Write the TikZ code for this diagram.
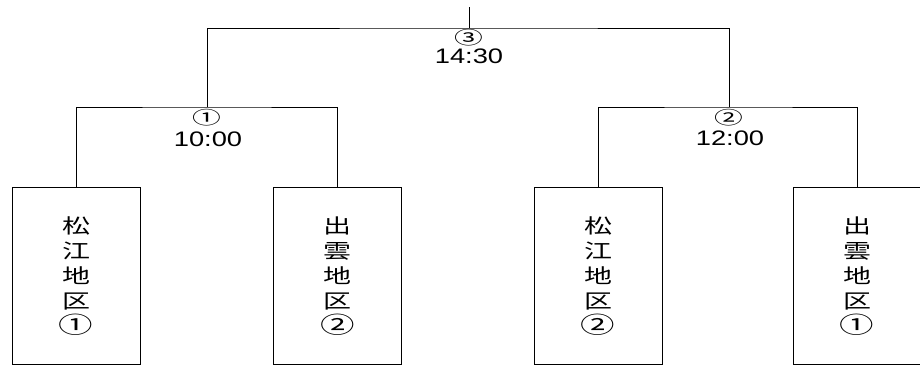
\documentclass[tikz,border=0pt]{standalone}
\usepackage{graphicx}
\usepackage{fontspec}
\newfontfamily\jpfont{Noto Sans CJK JP}
\newfontfamily\timefont{Liberation Sans}
% the lettering of the sheet is drawn wide
\newcommand{\wide}[2][1.3]{\scalebox{#1}[1]{#2}}
\newcommand{\teamname}[3]{\wide[1.4]{#1}\\\wide[1.4]{#2}\\\wide[1.4]{地}\\\wide[1.4]{区}\\
  \wide[1.5]{\fontsize{23}{25}\selectfont#3}}
\tikzset{
  teambox/.style={draw, line width=1pt, minimum width=128pt, minimum height=177pt,
    inner sep=0pt, align=center, font=\jpfont\fontsize{20}{25}\selectfont},
  gamenum/.style={inner sep=0pt, font=\jpfont\fontsize{18}{18}\selectfont},
  gametime/.style={inner sep=0pt, font=\timefont\fontsize{21}{21}\selectfont},
  bracket/.style={line width=1pt}
}
\begin{document}
\begin{tikzpicture}[x=1pt,y=-1pt]
\useasboundingbox (0,0) rectangle (920,368);
% Team boxes
\node[teambox] (m1) at (76,276) {\teamname{松}{江}{①}};
\node[teambox] (i2) at (337.5,276) {\teamname{出}{雲}{②}};
\node[teambox] (m2) at (598,276) {\teamname{松}{江}{②}};
\node[teambox] (i1) at (857,276) {\teamname{出}{雲}{①}};
% Junctions of the bracket
\coordinate (g1) at (207,107);
\coordinate (g2) at (729,107);
\coordinate (g3) at (469,28);
\coordinate (top) at (469,7);
% First round
\draw[bracket] (m1.north) |- (g1) -| (i2.north);
\draw[bracket] (m2.north) |- (g2) -| (i1.north);
% Final
\draw[bracket] (g1) |- (g3) -| (g2);
\draw[bracket] (g3) -- (top);
% Game numbers and times
\node[gamenum] (n1) at (207,118) {\wide[1.6]{①}};
\node[gametime] (t1) at (208,139) {\wide{10:00}};
\node[gamenum] (n2) at (729,118) {\wide[1.6]{②}};
\node[gametime] (t2) at (730,138) {\wide{12:00}};
\node[gamenum] (n3) at (469,37.5) {\wide[1.6]{③}};
\node[gametime] (t3) at (469,56) {\wide{14:30}};
\end{tikzpicture}
\end{document}
